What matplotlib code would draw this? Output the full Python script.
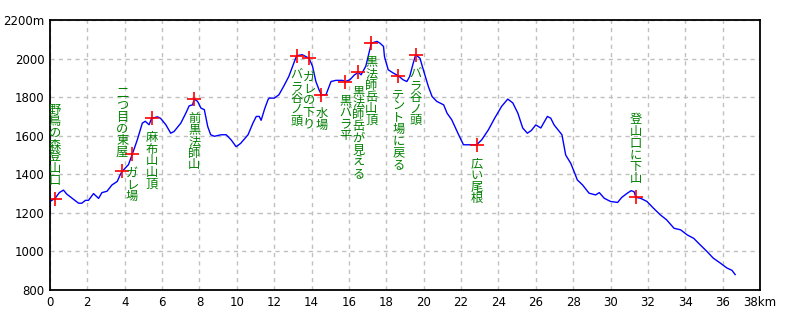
import matplotlib
matplotlib.use('Agg')
import matplotlib.pyplot as plt

# elevation profile (distance km, elevation m)
dist_km = [0.0, 0.02, 0.27, 0.5, 0.72, 0.9, 1.53, 1.7, 1.9, 2.06, 2.33, 2.6, 2.78, 3.05,
           3.32, 3.6, 3.77, 3.86, 4.2, 4.4, 4.67, 4.94, 5.1, 5.3, 5.44, 5.75, 5.92, 6.2,
           6.46, 6.64, 7.0, 7.27, 7.45, 7.63, 7.72, 7.9, 8.08, 8.26, 8.44, 8.6, 8.8, 9.16,
           9.43, 9.7, 9.96, 10.2, 10.6, 10.86, 11.04, 11.2, 11.3, 11.5, 11.67, 11.73, 12.0,
           12.25, 12.5, 12.78, 13.05, 13.2, 13.5, 13.68, 13.86, 14.05, 14.23, 14.4, 14.53,
           14.77, 15.04, 15.3, 15.66, 15.8, 16.05, 16.3, 16.5, 16.65, 16.9, 17.2, 17.5,
           17.66, 17.85, 17.9, 18.1, 18.37, 18.64, 18.9, 19.1, 19.25, 19.44, 19.57, 19.8,
           19.98, 20.25, 20.45, 20.7, 21.07, 21.25, 21.5, 21.87, 22.13, 22.4, 22.83, 23.1,
           23.46, 23.8, 24.17, 24.5, 24.77, 25.04, 25.3, 25.55, 25.76, 26.0, 26.27, 26.62,
           26.8, 26.98, 27.4, 27.6, 27.87, 28.05, 28.22, 28.5, 28.85, 29.2, 29.4, 29.66,
           30.0, 30.38, 30.6, 30.87, 31.1, 31.26, 31.36, 31.6, 31.95, 32.3, 32.66, 33.0,
           33.4, 33.75, 34.1, 34.45, 34.8, 35.16, 35.5, 35.87, 36.23, 36.5, 36.67]
elev_m = [1200, 1260, 1275, 1305, 1318, 1297, 1250, 1250, 1265, 1265, 1300, 1275, 1305, 1312,
          1345, 1363, 1400, 1415, 1450, 1503, 1578, 1665, 1675, 1657, 1690, 1698, 1690, 1657,
          1613, 1622, 1665, 1717, 1755, 1760, 1790, 1778, 1743, 1735, 1648, 1605, 1597, 1605,
          1605, 1578, 1543, 1560, 1605, 1665, 1700, 1700, 1680, 1743, 1787, 1795, 1795,
          1812, 1855, 1907, 1976, 2015, 2020, 2011, 2002, 1960, 1881, 1838, 1812,
          1812, 1881, 1887, 1887, 1881, 1890, 1916, 1928, 1916, 1960, 2080, 2089,
          2080, 2063, 2011, 1942, 1925, 1911, 1890, 1881, 1907, 1976, 2020, 2002,
          1942, 1855, 1803, 1778, 1760, 1717, 1683, 1605, 1553, 1553, 1553, 1578,
          1630, 1691, 1752, 1790, 1770, 1717, 1640, 1613, 1627, 1656, 1640, 1700,
          1691, 1656, 1605, 1500, 1457, 1414, 1371, 1345, 1302, 1293, 1305, 1276,
          1259, 1254, 1280, 1300, 1315, 1310, 1280, 1276, 1259, 1224, 1190, 1164,
          1120, 1112, 1086, 1068, 1034, 1000, 965, 940, 914, 902, 880]

# waypoints
mark_km = [0.27, 3.86, 4.4, 5.44, 7.72, 13.2, 13.86, 14.53, 15.8, 16.5, 17.2, 18.64, 19.57, 22.83, 31.36]
mark_m = [1270, 1415, 1503, 1690, 1790, 2015, 2002, 1812, 1881, 1928, 2080, 1911, 2020, 1553, 1280]
mark_names = ['野鳥の森登山口', '二つ目の東屋', 'ガレ場', '麻布山山頂', '前黒法師山',
              'バラ谷ノ頭', 'ガレの下り', '水場', '黒バラ平', '黒法師岳が見える',
              '黒法師岳山頂', 'テント場に戻る', 'バラ谷ノ頭', '広い尾根', '登山口に下山']
label_above = [True, True, False, False, False, False, False, False, False, False,
               False, False, False, False, True]

y_ticks = [800, 1000, 1200, 1400, 1600, 1800, 2000, 2200]
x_ticks = list(range(0, 40, 2))

plt.rcParams['font.family'] = ['Noto Sans CJK JP', 'DejaVu Sans']

fig = plt.figure(figsize=(8, 3.2), dpi=100)
ax = fig.add_axes([0.0625, 0.09375, 0.8875, 0.84375])

ax.plot(dist_km, elev_m, color='#0000ff', lw=1)
ax.plot(mark_km, mark_m, '+', color='#ff0000', ms=10, mew=1.2)

for x, y, name, above in zip(mark_km, mark_m, mark_names, label_above):
    vtext = '\n'.join(name)
    if above:
        ax.annotate(vtext, (x, y), xytext=(0, 9), textcoords='offset points',
                    ha='center', va='bottom', color='#008000', fontsize=8.8,
                    linespacing=0.87)
    else:
        ax.annotate(vtext, (x, y), xytext=(0, -9), textcoords='offset points',
                    ha='center', va='top', color='#008000', fontsize=8.8,
                    linespacing=0.87)

ax.set_xlim(0, 38)
ax.set_ylim(800, 2200)
ax.set_xticks(x_ticks)
ax.set_yticks(y_ticks)
ax.set_xticklabels([str(v) for v in x_ticks[:-1]] + ['38km'], fontfamily='DejaVu Sans')
ax.set_yticklabels([str(v) for v in y_ticks[:-1]] + ['2200m'], fontfamily='DejaVu Sans')
ax.tick_params(length=0, labelsize=8.5, pad=4)
ax.grid(True, color='#c0c0c0', linestyle=(0, (3, 3)), lw=1)
for s in ax.spines.values():
    s.set_linewidth(1.3)

fig.savefig('out.png', dpi=100)
